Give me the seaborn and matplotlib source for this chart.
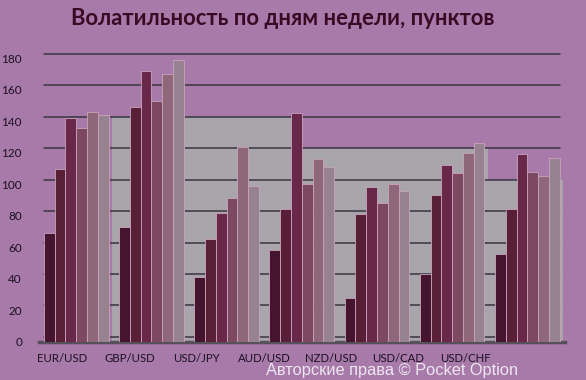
import numpy as np
import pandas as pd
import matplotlib
matplotlib.use("Agg")
import matplotlib.pyplot as plt
import seaborn as sns

pairs = ["EUR/USD", "GBP/USD", "USD/JPY", "AUD/USD", "NZD/USD", "USD/CAD", "USD/CHF"]
days = ["Вс", "Пн", "Вт", "Ср", "Чт", "Пт"]
values = {
    "Вс": [69, 73, 41, 58, 28, 43, 56],
    "Пн": [110, 149, 65, 84, 81, 93, 84],
    "Вт": [142, 172, 82, 145, 98, 112, 119],
    "Ср": [136, 153, 91, 100, 88, 107, 108],
    "Чт": [146, 170, 124, 116, 100, 120, 105],
    "Пт": [144, 179, 99, 111, 96, 126, 117],
}
yticks = [0, 20, 40, 60, 80, 100, 120, 140, 160, 180]
title = "Волатильность по дням недели, пунктов"
watermark = "Авторские права © Pocket Option"

rows = []
for d in days:
    for p, v in zip(pairs, values[d]):
        rows.append({"pair": p, "day": d, "value": v})
df = pd.DataFrame(rows)

sns.set_theme(style="white")
plt.rcParams["font.family"] = ["Lato", "DejaVu Sans"]

bg = "#a77aaa"
colors = ["#4d0c2e", "#631535", "#741d4a", "#864060", "#956079", "#9a8090"]

fig = plt.figure(figsize=(5.86, 3.80), dpi=100, facecolor=bg)
ax = fig.add_axes([0.066, 0.1008, 0.898, 0.787])
ax.set_facecolor(bg)

# grey back-wall area
gx = [0.48, 3.02, 3.02, 5.48, 5.48, 6.47]
gy = [143, 143, 123, 123, 103, 103]
ax.fill_between(gx, 0, gy, color="#a9a6ab", zorder=0, linewidth=0)

for t in yticks:
    ax.axhline(t + 3, color="#3a3540", lw=1.1, zorder=1, xmin=0.01, xmax=0.99)

sns.barplot(data=df, x="pair", y="value", hue="day", palette=colors,
            width=0.86, gap=0.0, ax=ax, legend=False, zorder=3,
            edgecolor="#c9a3bb", linewidth=0.6)

ax.set_xlim(-0.5, 6.5)
ax.set_ylim(0, 190)
ax.set_yticks(yticks)
ax.set_yticklabels([str(t) for t in yticks], fontsize=8.5, color="#1c1020")
ax.set_xticks(np.arange(len(pairs)) * 0.894 - 0.186)
ax.set_xticklabels(pairs, fontsize=8.2, color="#1c1020")
ax.tick_params(axis="both", length=0)
ax.tick_params(axis="y", pad=12)
ax.tick_params(axis="x", pad=8)
ax.set_xlabel("")
ax.set_ylabel("")
for s in ["top", "right", "left"]:
    ax.spines[s].set_visible(False)
ax.spines["bottom"].set_color("#55505a")
ax.spines["bottom"].set_linewidth(2.5)

fig.text(0.483, 0.952, title, ha="center", va="center", fontsize=15.8,
         fontweight="bold", color="#3a0a25")
fig.text(0.669, 0.026, watermark, ha="center", va="center", fontsize=11.8,
         color="#eee6f0", family=["Liberation Sans", "DejaVu Sans"])

fig.savefig("out.png", dpi=100, facecolor=bg)
